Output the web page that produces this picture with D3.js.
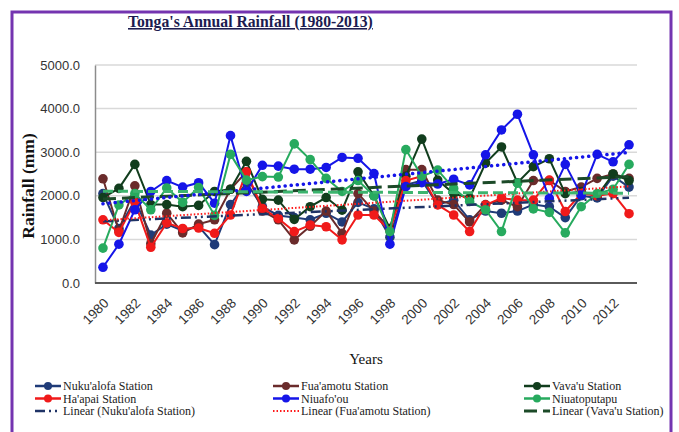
<!DOCTYPE html>
<html><head><meta charset="utf-8">
<script src="https://cdn.jsdelivr.net/npm/d3@7"></script>
<style>body{margin:0;background:#fff;} svg{display:block}</style>
</head><body><svg id="c" width="679" height="432"></svg>
<script>
const years = [1980,1981,1982,1983,1984,1985,1986,1987,1988,1989,1990,1991,1992,1993,1994,1995,1996,1997,1998,1999,2000,2001,2002,2003,2004,2005,2006,2007,2008,2009,2010,2011,2012,2013];
const nukualofa = [2050,1250,1900,1100,1350,1200,1300,880,1800,2300,1750,1550,1500,1450,1600,1400,1850,1700,1050,2250,2350,1800,1900,1450,1650,1600,1650,1800,1750,1500,2000,1950,2450,2200];
const fuaamotu = [2390,1200,2230,900,1600,1150,1350,1450,2150,2550,1650,1450,990,1300,1650,1140,2050,1650,1250,2600,2600,1900,1800,1400,1800,1900,1750,2350,2350,2100,2200,2400,2500,2400];
const vavau = [1960,2170,2720,1800,1800,1750,1780,2100,2150,2790,1920,1900,1460,1750,1960,1670,2550,2000,1250,2450,3300,2360,2050,1950,2750,3120,2300,2670,2850,2050,2100,2000,2500,2350];
const haapai = [1450,1160,1850,820,1380,1250,1260,1140,1560,2550,1710,1480,1180,1330,1290,990,1560,1560,1200,2350,2450,1790,1560,1180,1790,1950,1900,1900,2360,1640,2050,2000,2050,1590];
const niuafoou = [360,890,1680,2100,2350,2200,2300,1830,3380,2100,2700,2680,2610,2610,2650,2880,2860,2510,890,2210,2300,2270,2380,2250,2940,3510,3870,2940,1940,2720,2020,2950,2780,3170];
const niuatoputapu = [800,1790,2050,1680,2180,1850,2190,1550,2950,2360,2440,2430,3190,2830,2400,2100,2350,2000,1180,3060,2450,2590,2170,1870,1680,1180,2290,1700,1620,1150,1750,2050,2150,2720];
const xTickYears = [1980,1982,1984,1986,1988,1990,1992,1994,1996,1998,2000,2002,2004,2006,2008,2010,2012];
const yTicks = [0,1000,2000,3000,4000,5000];
const seriesNames = ["Nuku'alofa Station","Fua'amotu Station","Vava'u Station","Ha'apai Station","Niuafo'ou","Niuatoputapu"];
const trendNames = ["Linear (Nuku'alofa Station)","Linear (Fua'amotu Station)","Linear (Vava'u Station)"];

const series = [
  {name: seriesNames[0], values: nukualofa, color: "#1f3b78"},
  {name: seriesNames[1], values: fuaamotu, color: "#6a2b2b"},
  {name: seriesNames[2], values: vavau, color: "#113d1d"},
  {name: seriesNames[3], values: haapai, color: "#f01a1a"},
  {name: seriesNames[4], values: niuafoou, color: "#1515e8"},
  {name: seriesNames[5], values: niuatoputapu, color: "#27aa5e"}
];
const trends = [
  {name: trendNames[0], values: nukualofa, color: "#1f3366", dash: "10,4,2,4,2,4", w: 2.5, cap: "butt"},
  {name: trendNames[1], values: fuaamotu, color: "#ff1a1a", dash: "1.5,2", w: 2, cap: "butt"},
  {name: trendNames[2], values: vavau, color: "#1c4a28", dash: "13,6", w: 3, cap: "butt"},
  {name: "", values: niuafoou, color: "#1515e8", dash: "0.1,6", w: 3.5, cap: "round"},
  {name: "", values: niuatoputapu, color: "#3cb46e", dash: "10,5", w: 3, cap: "butt"}
];

const W = 679, H = 432;
const svg = d3.select("#c");
svg.append("rect").attr("width", W).attr("height", H).attr("fill", "#fff");

const x = d3.scalePoint().domain(years).range([95, 637]).padding(0.5);
const y = d3.scaleLinear().domain([0, 5000]).range([283, 65]);

// gridlines
svg.append("g").selectAll("line").data(yTicks.filter(d => d > 0)).join("line")
  .attr("x1", 95).attr("x2", 637).attr("y1", d => y(d)).attr("y2", d => y(d))
  .attr("stroke", "#d9d9d9").attr("stroke-width", 1.5);

// y axis
const ya = svg.append("g").attr("transform", "translate(95,0)")
  .call(d3.axisLeft(y).tickValues(yTicks).tickFormat(d3.format(".1f")).tickSize(0).tickPadding(15));
ya.select(".domain").attr("stroke", "#8c8c8c").attr("stroke-width", 1.5);
ya.selectAll("text").attr("font-family", "'Liberation Sans', Arial, sans-serif").attr("font-size", 13).attr("fill", "#333");

// x axis
const xa = svg.append("g").attr("transform", "translate(0,283)")
  .call(d3.axisBottom(x).tickValues(xTickYears).tickSize(0));
xa.select(".domain").attr("d", "M95,0H637").attr("stroke", "#5a5a5a").attr("stroke-width", 2.2);
xa.selectAll("text")
  .attr("font-family", "'Liberation Sans', Arial, sans-serif").attr("font-size", 13.5).attr("fill", "#333")
  .attr("text-anchor", "end").attr("dy", null).attr("y", 0)
  .attr("transform", "translate(6,21) rotate(-45)");

// series lines
const line = d3.line().x((d, i) => x(years[i])).y(d => y(d));
series.forEach(s => {
  const g = svg.append("g");
  g.append("path").attr("d", line(s.values)).attr("fill", "none")
    .attr("stroke", s.color).attr("stroke-width", 2);
  g.selectAll("circle").data(s.values).join("circle")
    .attr("cx", (d, i) => x(years[i])).attr("cy", d => y(d)).attr("r", 4.8)
    .attr("fill", s.color);
});

// linear trends (least squares)
function fit(vals) {
  const n = vals.length, xs = d3.range(n);
  const mx = d3.mean(xs), my = d3.mean(vals);
  let sxy = 0, sxx = 0;
  xs.forEach((xi, i) => { sxy += (xi - mx) * (vals[i] - my); sxx += (xi - mx) * (xi - mx); });
  const b = sxy / sxx, a = my - b * mx;
  return [a, a + b * (n - 1)];
}
trends.forEach(t => {
  const [v0, v1] = fit(t.values);
  svg.append("line")
    .attr("x1", x(years[0])).attr("x2", x(years[years.length - 1]))
    .attr("y1", y(v0)).attr("y2", y(v1))
    .attr("stroke", t.color).attr("stroke-width", t.w)
    .attr("stroke-dasharray", t.dash).attr("stroke-linecap", t.cap);
});

// titles
svg.append("text").attr("x", 128).attr("y", 27)
  .attr("font-family", "'Liberation Serif', 'Times New Roman', serif").attr("font-weight", "bold")
  .attr("font-size", 15.7).attr("fill", "#1c1c50").attr("text-decoration", "underline")
  .text("Tonga's Annual Rainfall (1980-2013)");

svg.append("text").attr("transform", "translate(34,186) rotate(-90)")
  .attr("text-anchor", "middle")
  .attr("font-family", "'Liberation Serif', 'Times New Roman', serif").attr("font-weight", "bold")
  .attr("font-size", 17.5).attr("fill", "#111").text("Rainfall (mm)");

svg.append("text").attr("x", 366).attr("y", 364).attr("text-anchor", "middle")
  .attr("font-family", "'Liberation Serif', 'Times New Roman', serif")
  .attr("font-size", 15).attr("fill", "#111").text("Years");

// legend
const legendItems = [
  {label: seriesNames[0], color: series[0].color, marker: true},
  {label: seriesNames[1], color: series[1].color, marker: true},
  {label: seriesNames[2], color: series[2].color, marker: true},
  {label: seriesNames[3], color: series[3].color, marker: true},
  {label: seriesNames[4], color: series[4].color, marker: true},
  {label: seriesNames[5], color: series[5].color, marker: true},
  {label: trendNames[0], color: trends[0].color, marker: false, t: trends[0]},
  {label: trendNames[1], color: trends[1].color, marker: false, t: trends[1]},
  {label: trendNames[2], color: trends[2].color, marker: false, t: trends[2]}
];
const colX = [35, 273, 524];
const rowY = [386, 398.5, 411];
const lg = svg.append("g");
legendItems.forEach((it, i) => {
  const cx = colX[i % 3], cy = rowY[Math.floor(i / 3)];
  const g = lg.append("g").attr("transform", `translate(${cx},${cy})`);
  if (it.marker) {
    g.append("line").attr("x1", 0).attr("x2", 26).attr("stroke", it.color).attr("stroke-width", 2.5);
    g.append("circle").attr("cx", 13).attr("r", 4).attr("fill", it.color);
  } else {
    g.append("line").attr("x1", 0).attr("x2", 26).attr("stroke", it.color)
      .attr("stroke-width", it.t.w).attr("stroke-dasharray", it.t.dash).attr("stroke-linecap", it.t.cap);
  }
  g.append("text").attr("x", 28).attr("y", 4)
    .attr("font-family", "'Liberation Serif', 'Times New Roman', serif")
    .attr("font-size", 12).attr("fill", "#222").text(it.label);
});

// purple frame
svg.append("rect").attr("x", 12).attr("y", 12).attr("width", 659).attr("height", 440)
  .attr("fill", "none").attr("stroke", "#7434b0").attr("stroke-width", 3);
</script></body></html>
